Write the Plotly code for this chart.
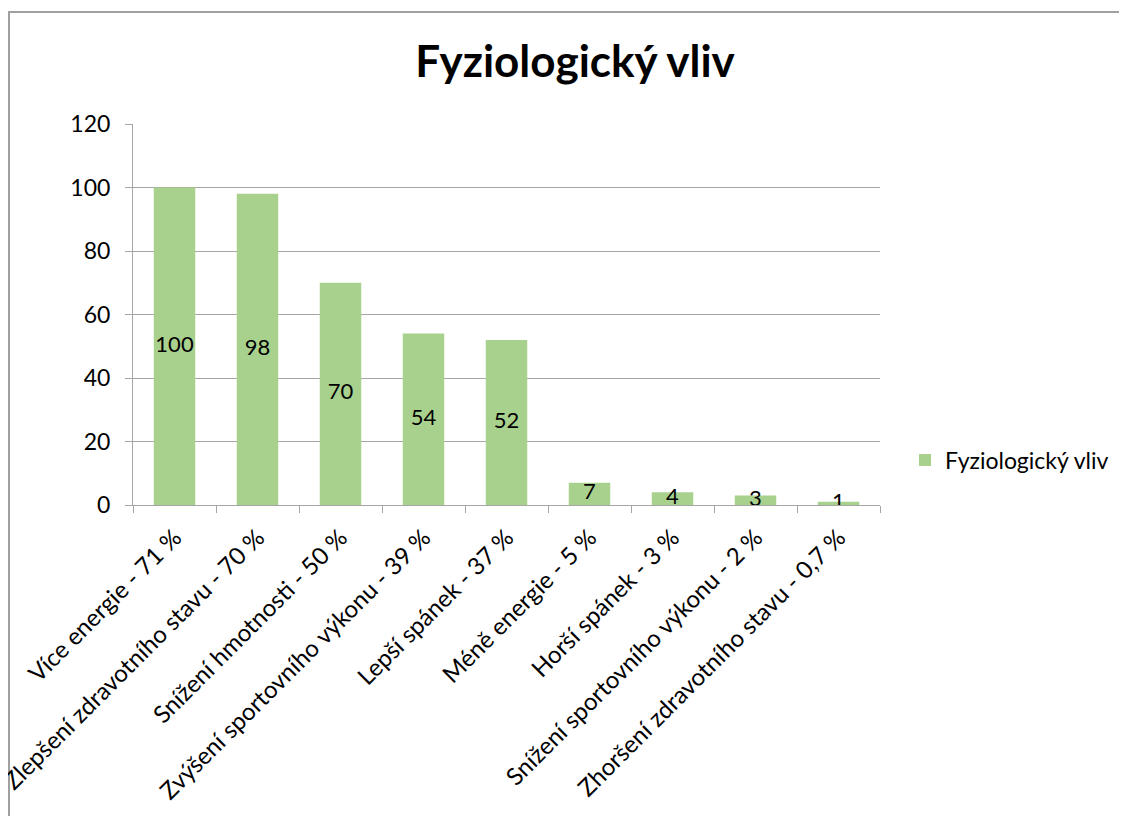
import plotly.graph_objects as go

categories = [
    "Více energie - 71 %",
    "Zlepšení zdravotního stavu - 70 %",
    "Snížení hmotnosti - 50 %",
    "Zvýšení sportovního výkonu - 39 %",
    "Lepší spánek - 37 %",
    "Méně energie - 5 %",
    "Horší spánek - 3 %",
    "Snížení sportovního výkonu - 2 %",
    "Zhoršení zdravotního stavu - 0,7 %",
]
values = [100, 98, 70, 54, 52, 7, 4, 3, 1]
series_name = "Fyziologický vliv"
title_text = "Fyziologický vliv"
y_ticks = [0, 20, 40, 60, 80, 100, 120]

W, H = 1127, 816
OFF = 8  # page body margin
L, R, T, B = 133 - OFF, 880 - OFF, 124 - OFF, 505 - OFF
FONT = "Lato"
GRAY = "#A6A6A6"

fig = go.Figure()
fig.add_trace(go.Bar(
    x=categories, y=values, name=series_name,
    marker=dict(color="#A9D18E", line=dict(width=0)),
    width=0.5,
))
fig.add_trace(go.Scatter(
    x=categories, y=[v / 2 for v in values], mode="text",
    text=[str(v) for v in values], textposition="middle center",
    textfont=dict(family=FONT, size=22, color="#000000"),
    showlegend=False, hoverinfo="skip",
))

pw = R - L
ph = B - T
fig.add_shape(
    type="rect", xref="paper", yref="paper",
    x0=(1 - L) / pw, x1=(1160 - L) / pw,
    y0=(B - 860) / ph, y1=(B - (12 - OFF)) / ph,
    line=dict(color="#A0A0A0", width=2), fillcolor="rgba(0,0,0,0)",
    layer="below",
)

fig.update_layout(
    width=W, height=H,
    margin=dict(l=L, r=W - R, t=T, b=H - B, autoexpand=False),
    paper_bgcolor="white", plot_bgcolor="white",
    title=dict(text="<b>" + title_text + "</b>", x=(575 - OFF - L) / pw, xref="paper", xanchor="center",
               y=1 - (62 - OFF) / H, yanchor="middle",
               font=dict(family=FONT, size=44, color="#000000")),
    font=dict(family=FONT, size=22, color="#000000"),
    showlegend=True,
    legend=dict(x=(897 - L) / pw, y=(B - (460 - OFF)) / ph, xanchor="left", yanchor="middle",
                font=dict(family=FONT, size=23, color="#000000"),
                bgcolor="rgba(0,0,0,0)", itemwidth=30),
    bargap=0.5,
)
fig.update_yaxes(
    range=[0, 120], tickvals=y_ticks, ticktext=[str(t) for t in y_ticks],
    showgrid=True, gridcolor=GRAY, gridwidth=1,
    showline=True, linecolor=GRAY, linewidth=1,
    ticks="outside", ticklen=7, tickcolor=GRAY, ticklabelstandoff=10,
    tickfont=dict(family=FONT, size=23, color="#000000"),
    zeroline=False, fixedrange=True,
)
fig.update_xaxes(
    type="category", tickangle=-45,
    showline=True, linecolor=GRAY, linewidth=1,
    ticks="outside", ticklen=7, tickcolor=GRAY, tickson="boundaries",
    ticklabelstandoff=8,
    tickfont=dict(family=FONT, size=24, color="#000000"),
    showgrid=False, fixedrange=True,
)

fig.write_html("out.html")
